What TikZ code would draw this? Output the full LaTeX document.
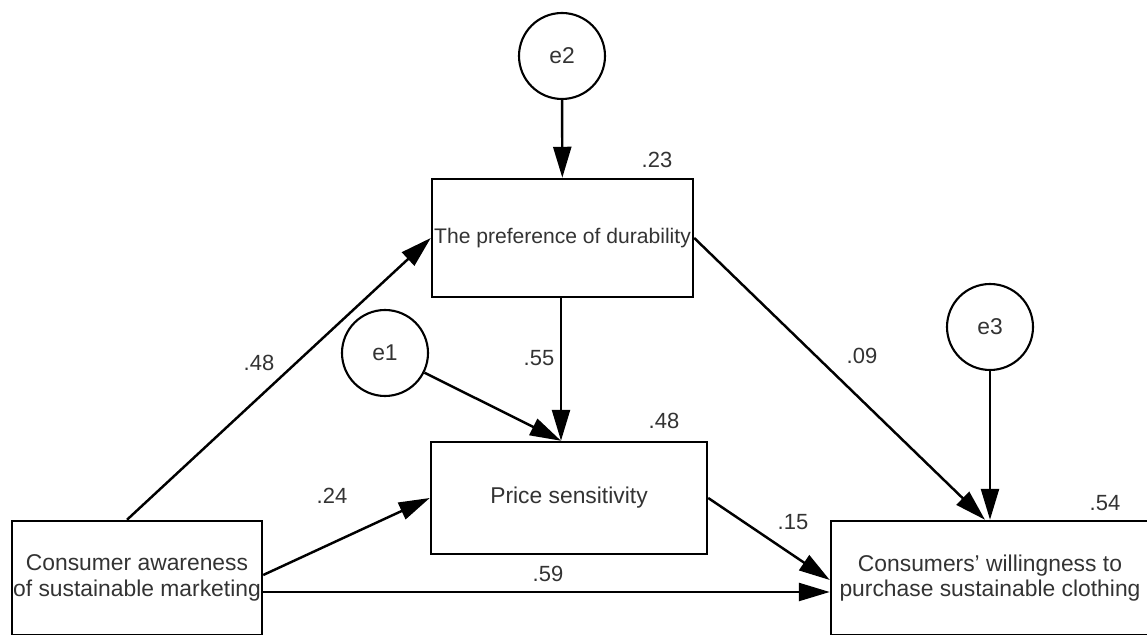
\documentclass[tikz,border=0pt]{standalone}
\usepackage{fontspec}
\setmainfont{Liberation Sans}
\usetikzlibrary{arrows.meta,positioning}

\begin{document}
\begin{tikzpicture}[line width=1.4pt,
every node/.style={inner sep=0pt,font=\fontsize{13}{14.5}\selectfont,text=black!80},
var/.style={rectangle,draw=black,align=center},
err/.style={circle,draw=black,line width=1.2pt,minimum size=1.72cm},
coef/.style={font=\fontsize{12.5}{14}\selectfont},
>={Triangle[length=0.62cm,width=0.36cm]}]
\useasboundingbox (0,0) rectangle (22.94,12.7);
\node (e2) at (11.24,11.58) [err] {e2};
\node (e1) at (7.70,5.64) [err] {e1};
\node (e3) at (19.80,6.16) [err] {e3};
\node (dur) at (11.25,7.94)
[var,minimum width=5.22cm,minimum height=2.36cm,font=\fontsize{12}{14}\selectfont] {The preference of durability};
\node (price) at (11.38,2.74)
[var,minimum width=5.52cm,minimum height=2.24cm] {Price sensitivity};
\node (aware) at (2.74,1.14)
[var,minimum width=5.0cm,minimum height=2.28cm] {Consumer awareness\\of sustainable marketing};
\node (will) at (19.80,1.14)
[var,minimum width=6.36cm,minimum height=2.28cm] {Consumers' willingness to\\purchase sustainable clothing};
\coordinate (pin) at ([xshift=-0.16cm]price.north);
\draw[->] (e2) -- (dur);
\draw[->] (dur.south -| pin) -- (pin);
\draw[->] (e1) -- (pin);
\draw[->] (e3) -- (will);
\draw[->] ([xshift=-0.2cm]aware.north) -- (dur.west);
\draw[->] ([yshift=0.06cm]aware.east) -- (price.west);
\draw[->] ([yshift=-0.28cm]aware.east) -- ([yshift=-0.28cm]aware.east -| will.west);
\draw[->] (price.east) -- ([yshift=-0.04cm]will.west);
\draw[->] (dur.east) -- ([xshift=-0.1cm]will.north);
\node (c23) at (13.14,9.5) [coef] {.23};
\node (c48a) at (5.18,5.44) [coef] {.48};
\node (c55) at (10.78,5.54) [coef] {.55};
\node (c48b) at (13.28,4.28) [coef] {.48};
\node (c09) at (17.24,5.58) [coef] {.09};
\node (c24) at (6.64,2.78) [coef] {.24};
\node (c15) at (15.86,2.26) [coef] {.15};
\node (c59) at (10.96,1.22) [coef] {.59};
\node (c54) at (22.10,2.64) [coef] {.54};
\end{tikzpicture}
\end{document}
